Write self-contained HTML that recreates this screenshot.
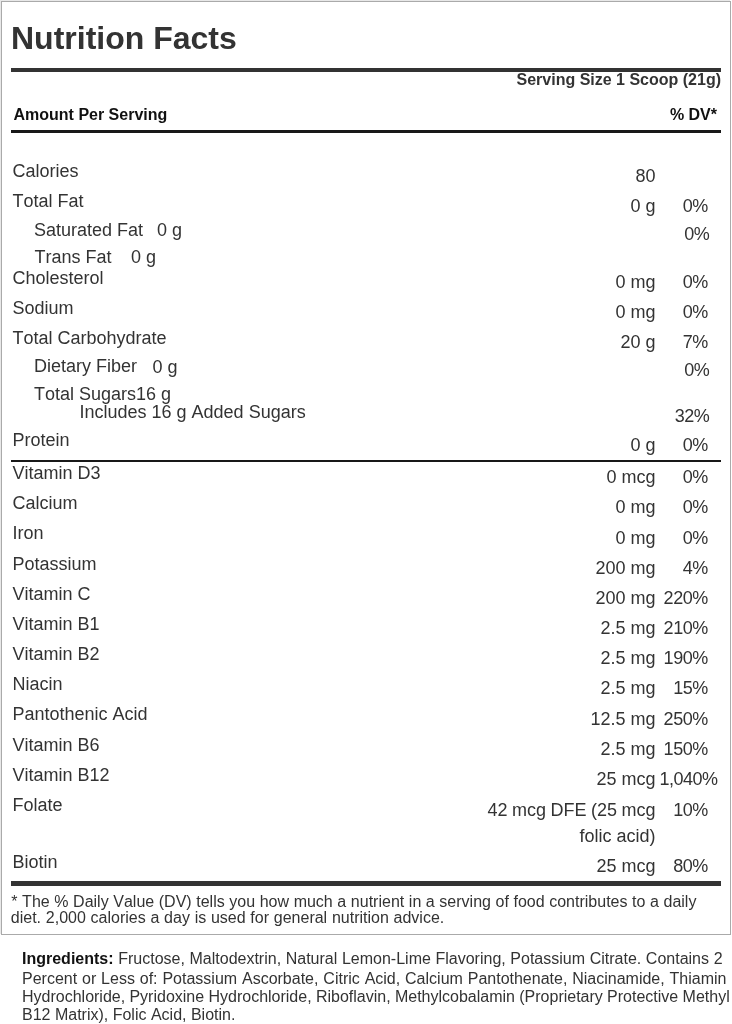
<!DOCTYPE html>
<html><head><meta charset="utf-8"><style>
html,body{margin:0;padding:0;background:#fff;width:732px;height:1024px;overflow:hidden}
body{position:relative;font-family:"Liberation Sans",sans-serif;color:#333}
#w{position:absolute;left:0;top:0;width:732px;height:1024px;will-change:transform}
.t{position:absolute;white-space:nowrap;line-height:20px;font-kerning:none}
.r{position:absolute}
.box{position:absolute;left:1px;top:1px;width:730px;height:934px;box-sizing:border-box;border:1px solid #aaa;box-shadow:-1px -1px 0 #e8e8e8}
b{color:#111}
</style></head><body>
<div id="w">
<div class="box"></div>
<div class="t" style="top:28px;font-size:32px;font-weight:bold;color:#333;left:11px;">Nutrition Facts</div>
<div class="r" style="left:11px;top:68px;width:710px;height:4px;background:#333"></div>
<div class="t" style="top:70px;font-size:16px;font-weight:bold;color:#333;right:11px;">Serving Size 1 Scoop (21g)</div>
<div class="t" style="top:105px;font-size:16px;font-weight:bold;color:#111;left:13.5px;">Amount Per Serving</div>
<div class="t" style="top:105px;font-size:16px;font-weight:bold;color:#111;right:15px;">% DV*</div>
<div class="r" style="left:11px;top:130px;width:710px;height:3px;background:#181818"></div>
<div class="t" style="top:161px;font-size:18px;left:12.5px;">Calories</div>
<div class="t" style="top:166px;font-size:18px;right:76.5px;">80</div>
<div class="t" style="top:191px;font-size:18px;left:12.5px;">Total Fat</div>
<div class="t" style="top:196px;font-size:18px;right:76.5px;">0 g</div>
<div class="t" style="top:196px;font-size:18px;letter-spacing:-0.45px;right:24.15000000000009px;">0%</div>
<div class="t" style="top:220px;font-size:18px;left:34px;">Saturated Fat</div>
<div class="t" style="top:224px;font-size:18px;letter-spacing:-0.45px;right:22.65000000000009px;">0%</div>
<div class="t" style="top:247px;font-size:18px;left:34.5px;">Trans Fat</div>
<div class="t" style="top:268px;font-size:18px;left:12.5px;">Cholesterol</div>
<div class="t" style="top:272px;font-size:18px;right:76.5px;">0 mg</div>
<div class="t" style="top:272px;font-size:18px;letter-spacing:-0.45px;right:24.15000000000009px;">0%</div>
<div class="t" style="top:298px;font-size:18px;left:12.5px;">Sodium</div>
<div class="t" style="top:302px;font-size:18px;right:76.5px;">0 mg</div>
<div class="t" style="top:302px;font-size:18px;letter-spacing:-0.45px;right:24.15000000000009px;">0%</div>
<div class="t" style="top:328px;font-size:18px;left:12.5px;">Total Carbohydrate</div>
<div class="t" style="top:332px;font-size:18px;right:76.5px;">20 g</div>
<div class="t" style="top:332px;font-size:18px;letter-spacing:-0.45px;right:24.15000000000009px;">7%</div>
<div class="t" style="top:356px;font-size:18px;left:34px;">Dietary Fiber</div>
<div class="t" style="top:360px;font-size:18px;letter-spacing:-0.45px;right:22.65000000000009px;">0%</div>
<div class="t" style="top:384px;font-size:18px;left:34px;">Total Sugars16 g</div>
<div class="t" style="top:402px;font-size:18px;left:79.5px;">Includes 16 g Added Sugars</div>
<div class="t" style="top:406px;font-size:18px;letter-spacing:-0.45px;right:22.65000000000009px;">32%</div>
<div class="t" style="top:430px;font-size:18px;left:12.5px;">Protein</div>
<div class="t" style="top:435px;font-size:18px;right:76.5px;">0 g</div>
<div class="t" style="top:435px;font-size:18px;letter-spacing:-0.45px;right:24.15000000000009px;">0%</div>
<div class="t" style="top:220px;font-size:18px;left:157px;">0 g</div>
<div class="t" style="top:247px;font-size:18px;left:131px;">0 g</div>
<div class="t" style="top:356.5px;font-size:18px;left:152.5px;">0 g</div>
<div class="r" style="left:11px;top:460px;width:710px;height:2px;background:#181818"></div>
<div class="t" style="top:463px;font-size:18px;left:12.5px;">Vitamin D3</div>
<div class="t" style="top:467px;font-size:18px;right:76.5px;">0 mcg</div>
<div class="t" style="top:467px;font-size:18px;letter-spacing:-0.45px;right:24.15000000000009px;">0%</div>
<div class="t" style="top:493px;font-size:18px;left:12.5px;">Calcium</div>
<div class="t" style="top:497px;font-size:18px;right:76.5px;">0 mg</div>
<div class="t" style="top:497px;font-size:18px;letter-spacing:-0.45px;right:24.15000000000009px;">0%</div>
<div class="t" style="top:523px;font-size:18px;left:12.5px;">Iron</div>
<div class="t" style="top:528px;font-size:18px;right:76.5px;">0 mg</div>
<div class="t" style="top:528px;font-size:18px;letter-spacing:-0.45px;right:24.15000000000009px;">0%</div>
<div class="t" style="top:554px;font-size:18px;left:12.5px;">Potassium</div>
<div class="t" style="top:558px;font-size:18px;right:76.5px;">200 mg</div>
<div class="t" style="top:558px;font-size:18px;letter-spacing:-0.45px;right:24.15000000000009px;">4%</div>
<div class="t" style="top:584px;font-size:18px;left:12.5px;">Vitamin C</div>
<div class="t" style="top:588px;font-size:18px;right:76.5px;">200 mg</div>
<div class="t" style="top:588px;font-size:18px;letter-spacing:-0.45px;right:24.15000000000009px;">220%</div>
<div class="t" style="top:614px;font-size:18px;left:12.5px;">Vitamin B1</div>
<div class="t" style="top:618px;font-size:18px;right:76.5px;">2.5 mg</div>
<div class="t" style="top:618px;font-size:18px;letter-spacing:-0.45px;right:24.15000000000009px;">210%</div>
<div class="t" style="top:644px;font-size:18px;left:12.5px;">Vitamin B2</div>
<div class="t" style="top:648px;font-size:18px;right:76.5px;">2.5 mg</div>
<div class="t" style="top:648px;font-size:18px;letter-spacing:-0.45px;right:24.15000000000009px;">190%</div>
<div class="t" style="top:674px;font-size:18px;left:12.5px;">Niacin</div>
<div class="t" style="top:678px;font-size:18px;right:76.5px;">2.5 mg</div>
<div class="t" style="top:678px;font-size:18px;letter-spacing:-0.45px;right:24.15000000000009px;">15%</div>
<div class="t" style="top:704px;font-size:18px;left:12.5px;">Pantothenic Acid</div>
<div class="t" style="top:709px;font-size:18px;right:76.5px;">12.5 mg</div>
<div class="t" style="top:709px;font-size:18px;letter-spacing:-0.45px;right:24.15000000000009px;">250%</div>
<div class="t" style="top:735px;font-size:18px;left:12.5px;">Vitamin B6</div>
<div class="t" style="top:739px;font-size:18px;right:76.5px;">2.5 mg</div>
<div class="t" style="top:739px;font-size:18px;letter-spacing:-0.45px;right:24.15000000000009px;">150%</div>
<div class="t" style="top:765px;font-size:18px;left:12.5px;">Vitamin B12</div>
<div class="t" style="top:769px;font-size:18px;right:76.5px;">25 mcg</div>
<div class="t" style="top:769px;font-size:18px;letter-spacing:-0.5px;left:659.5px;">1,040%</div>
<div class="t" style="top:795px;font-size:18px;left:12.5px;">Folate</div>
<div class="t" style="top:800px;font-size:18px;word-spacing:-0.5px;right:76.5px;">42 mcg DFE (25 mcg</div>
<div class="t" style="top:826px;font-size:18px;right:76.5px;">folic acid)</div>
<div class="t" style="top:800px;font-size:18px;letter-spacing:-0.45px;right:24.15000000000009px;">10%</div>
<div class="t" style="top:852px;font-size:18px;left:12.5px;">Biotin</div>
<div class="t" style="top:856px;font-size:18px;right:76.5px;">25 mcg</div>
<div class="t" style="top:856px;font-size:18px;letter-spacing:-0.45px;right:24.15000000000009px;">80%</div>
<div class="r" style="left:11px;top:881px;width:710px;height:5px;background:#333"></div>
<div class="t" style="top:891.5px;font-size:16px;word-spacing:0.15px;left:11.3px;">* The % Daily Value (DV) tells you how much a nutrient in a serving of food contributes to a daily</div>
<div class="t" style="top:907.5px;font-size:16px;word-spacing:0.3px;left:10.8px;">diet. 2,000 calories a day is used for general nutrition advice.</div>
<div class="t" style="top:948.5px;font-size:16px;word-spacing:0.18px;left:22px;"><b>Ingredients:</b> Fructose, Maltodextrin, Natural Lemon-Lime Flavoring, Potassium Citrate. Contains 2</div>
<div class="t" style="top:968.5px;font-size:16px;word-spacing:0.42px;left:22px;">Percent or Less of: Potassium Ascorbate, Citric Acid, Calcium Pantothenate, Niacinamide, Thiamin</div>
<div class="t" style="top:986.5px;font-size:16px;word-spacing:-0.15px;left:22px;">Hydrochloride, Pyridoxine Hydrochloride, Riboflavin, Methylcobalamin (Proprietary Protective Methyl</div>
<div class="t" style="top:1004.5px;font-size:16px;left:22px;">B12 Matrix), Folic Acid, Biotin.</div>
</div>
</body></html>
